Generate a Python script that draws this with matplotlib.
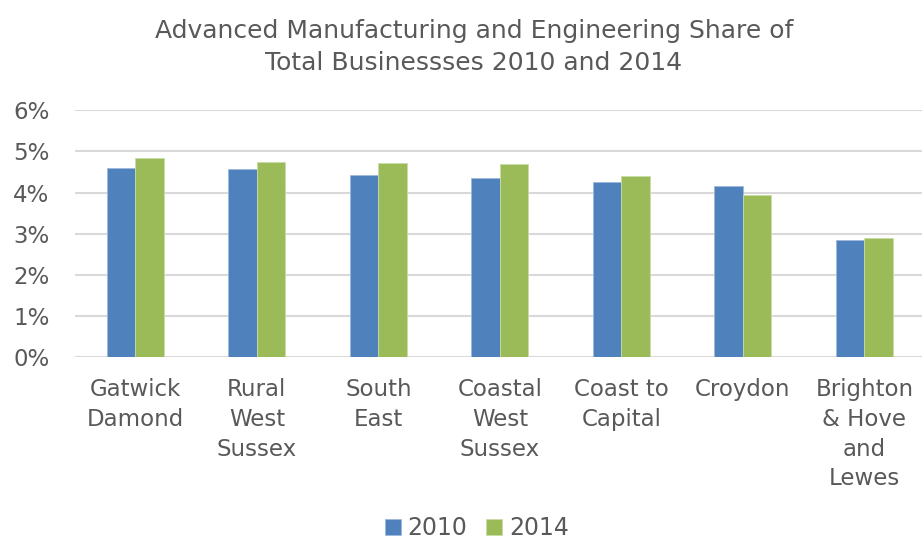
import numpy as np
import matplotlib
matplotlib.use("Agg")
from matplotlib import pyplot as plt
from matplotlib.ticker import PercentFormatter

# Share of businesses in advanced manufacturing & engineering (%)
areas = ["Gatwick\nDamond", "Rural\nWest\nSussex", "South\nEast", "Coastal\nWest\nSussex",
         "Coast to\nCapital", "Croydon", "Brighton\n& Hove\nand\nLewes"]
share_2010 = [4.60, 4.57, 4.42, 4.35, 4.25, 4.16, 2.85]
share_2014 = [4.83, 4.74, 4.73, 4.70, 4.41, 3.93, 2.90]
years = ["2010", "2014"]
yticks = [0, 1, 2, 3, 4, 5, 6]

blue = "#4F81BD"
green = "#9BBB59"
txt = "#595959"

plt.rcParams["font.family"] = ["DejaVu Sans"]

fig = plt.figure(figsize=(9.22, 5.4), dpi=100)
ax = fig.add_axes([74.6 / 922, 1 - 357 / 540, 850.5 / 922, 246.7 / 540])

x = np.arange(len(areas))
w = 0.235
ax.bar(x - w / 2, share_2010, w, color=blue, edgecolor="#9DB9DC", linewidth=0.6, label=years[0], zorder=3)
ax.bar(x + w / 2, share_2014, w, color=green, edgecolor="#C9DCA8", linewidth=0.6, label=years[1], zorder=3)

ax.set_xlim(-0.5, len(areas) - 0.5)
ax.set_ylim(0, 6)
ax.set_yticks(yticks)
ax.yaxis.set_major_formatter(PercentFormatter(decimals=0))
ax.set_xticks(x)
ax.set_xticklabels(areas)
ax.tick_params(axis="both", length=0, labelsize=16.5, colors=txt)
ax.tick_params(axis="x", pad=15)
ax.tick_params(axis="y", pad=18)
for lab in ax.get_xticklabels():
    lab.set_linespacing(1.38)

ax.grid(axis="y", color="#D9D9D9", linewidth=1.5, zorder=0)
for s in ax.spines.values():
    s.set_visible(False)

fig.text(474 / 922, 1 - 47 / 540, "Advanced Manufacturing and Engineering Share of\nTotal Businessses 2010 and 2014",
         ha="center", va="center", fontsize=18, color=txt, linespacing=1.4)

leg = fig.legend(loc="center", bbox_to_anchor=(477 / 922, 1 - 528 / 540), ncol=2, frameon=False,
                 fontsize=17, handlelength=0.65, handleheight=0.65, handletextpad=0.3, columnspacing=0.8)
for t in leg.get_texts():
    t.set_color(txt)

fig.savefig("out.png", dpi=100)
